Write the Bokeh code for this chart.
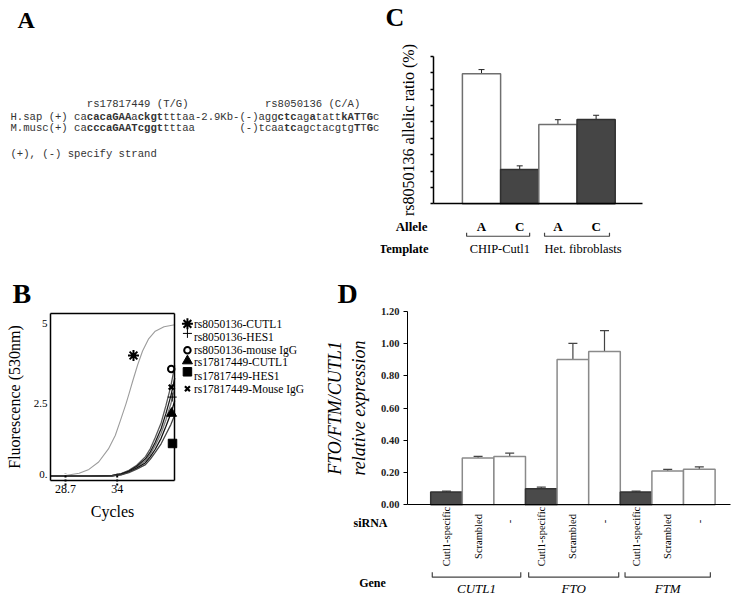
import re
import numpy as np
from bokeh.plotting import figure
from bokeh.models import (Range1d, FixedTicker, LinearAxis, ColumnDataSource, Whisker, TeeHead,
                          NumeralTickFormatter)
from bokeh.layouts import row, column
from bokeh.core.properties import value
from bokeh.embed import file_html
from bokeh.resources import INLINE

SERIF = "Liberation Serif"
MONO = "Liberation Mono"

# ---------------- data: panel A (sequence alignment, runs of (text, bold)) ----------------
seq_header = [("            rs17817449 (T/G)            rs8050136 (C/A)", False)]
seq_hsap = [("H.sap (+) ca", False), ("cacaGAA", True), ("a", False), ("ckgt", True),
            ("tttaa-2.9Kb-(-)agg", False), ("ctc", True), ("ag", False), ("a", True),
            ("tatt", False), ("kAT", True), ("T", False), ("G", True), ("c", False)]
seq_mmus = [("M.musc(+) ca", False), ("cccaGAATcggt", True), ("tttaa       (-)tcaa", False),
            ("tc", True), ("agctacgtg", False), ("T", True), ("T", False), ("G", True), ("c", False)]
seq_note = [("(+), (-) specify strand", False)]

# ---------------- data: panel B (amplification curves) ----------------
b_series = ["rs8050136-CUTL1", "rs8050136-HES1", "rs8050136-mouse IgG",
            "rs17817449-CUTL1", "rs17817449-HES1", "rs17817449-Mouse IgG"]
b_markers = ["asterisk", "cross", "circle", "triangle", "square", "x"]
b_x_cutl1 = [27.16, 28.7, 30.1, 31.1, 32.1, 33.1, 33.8, 34.3, 34.9, 35.2, 35.6, 36.1, 36.6, 37.2, 37.9, 38.8, 39.9]
b_f_cutl1 = [0.24, 0.26, 0.33, 0.45, 0.68, 1.09, 1.51, 1.95, 2.50, 2.80, 3.22, 3.72, 4.15, 4.52, 4.77, 4.91, 4.97]
b_x_late = [27.16, 31.0, 33.5, 34.4, 35.2, 36.0, 36.9, 37.4, 37.9, 38.5, 39.0, 39.5, 39.9]
b_f_hes1_80 = [0.24, 0.24, 0.25, 0.30, 0.39, 0.52, 0.72, 0.93, 1.20, 1.58, 2.00, 2.50, 3.00]
b_f_igg_80 = [0.24, 0.24, 0.26, 0.32, 0.42, 0.58, 0.85, 1.10, 1.45, 1.90, 2.45, 3.05, 3.70]
b_f_cutl1_17 = [0.24, 0.24, 0.25, 0.29, 0.37, 0.49, 0.66, 0.85, 1.08, 1.42, 1.80, 2.20, 2.60]
b_f_hes1_17 = [0.24, 0.24, 0.25, 0.28, 0.35, 0.46, 0.60, 0.77, 0.98, 1.25, 1.55, 1.85, 2.15]
b_f_igg_17 = [0.24, 0.24, 0.26, 0.31, 0.40, 0.55, 0.78, 1.00, 1.30, 1.72, 2.20, 2.75, 3.30]
b_mark_x = [35.67, 39.64, 39.54, 39.57, 39.67, 39.54]
b_mark_y = [4.01, 2.71, 3.59, 2.20, 1.26, 3.02]
b_ct = [28.7, 34.0]
b_xlim = (27.16, 39.9)
b_ylim = (0.1, 5.31)
b_yticks = [0.3, 2.5, 5.0]
b_ylabels = {0.3: "0.", 2.5: "2.5", 5.0: "5"}

# ---------------- data: panel C (allelic ratio) ----------------
c_alleles = ["A", "C", "A", "C"]
c_templates = ["CHIP-Cutl1", "Het. fibroblasts"]
c_ratio = [79.5, 21.0, 48.5, 51.5]
c_err = [2.5, 2.2, 2.9, 2.6]
c_yticks = [0, 10, 20, 30, 40, 50, 60, 70, 80, 90]

# ---------------- data: panel D (relative expression) ----------------
d_genes = ["CUTL1", "FTO", "FTM"]
d_sirna = ["Cutl1-specific", "Scrambled", "-"] * 3
d_expr = [0.08, 0.29, 0.30, 0.10, 0.90, 0.95, 0.08, 0.21, 0.22]
d_err = [0.005, 0.01, 0.02, 0.01, 0.10, 0.13, 0.005, 0.01, 0.015]
d_yticks = [0.0, 0.2, 0.4, 0.6, 0.8, 1.0, 1.2]


def make_fig(w, h, xr, yr, axes=True):
    kw = {} if axes else dict(x_axis_location=None, y_axis_location=None)
    p = figure(width=w, height=h, x_range=xr, y_range=yr, output_backend="svg",
               toolbar_location=None, min_border_left=0, min_border_right=0,
               min_border_top=0, min_border_bottom=0, **kw)
    p.grid.visible = False
    p.outline_line_color = None
    if "frame_align" in p.properties():
        p.frame_align = False
    return p


def txt(p, xs, ys, texts, size, style="normal", align="left", baseline="middle", angle=0.0,
        color="black", font=SERIF):
    p.text(x=xs, y=ys, text=texts, text_font=value(font), text_font_size=size,
           text_font_style=style, text_align=align, text_baseline=baseline, angle=angle,
           text_color=color)


def no_ticks(ax):
    ax.major_tick_line_color = None
    ax.minor_tick_line_color = None
    ax.major_tick_in = 0
    ax.major_tick_out = 0
    ax.minor_tick_in = 0
    ax.minor_tick_out = 0


def style_labels(ax, size, style="normal", color="black"):
    ax.major_label_text_font = SERIF
    ax.major_label_text_font_size = size
    ax.major_label_text_font_style = style
    ax.major_label_text_color = color


def style_title(ax, text, size, style="normal", standoff=5):
    ax.axis_label = text
    ax.axis_label_text_font = SERIF
    ax.axis_label_text_font_size = size
    ax.axis_label_text_font_style = style
    ax.axis_label_text_color = "black"
    ax.axis_label_standoff = standoff


def plain_axis(loc, bounds, width=1.5):
    ax = LinearAxis(ticker=FixedTicker(ticks=[]), fixed_location=loc, bounds=bounds,
                    axis_line_width=width, axis_line_color="black")
    no_ticks(ax)
    return ax


TOP_H, BOT_H = 278, 322

# ======================= Panel A =======================
pA = make_fig(380, TOP_H, Range1d(0, 380), Range1d(TOP_H, 0), axes=False)
A_X0, A_CW = 10.0, 0.6 * 10.6
A_MID = [103.1, 116.1, 127.8, 153.8]
norm = dict(x=[], y=[], text=[])
bold = dict(x=[], y=[], text=[])
for line, ym in zip([seq_header, seq_hsap, seq_mmus, seq_note], A_MID):
    col = 0
    for run, is_bold in line:
        for m in re.finditer(r"\S+", run):
            d = bold if is_bold else norm
            d["x"].append(A_X0 + (col + m.start()) * A_CW)
            d["y"].append(ym)
            d["text"].append(m.group())
        col += len(run)
for d, st in [(norm, "normal"), (bold, "bold")]:
    pA.text(x="x", y="y", text="text", source=ColumnDataSource(d), text_font=value(MONO),
            text_font_size="10.6px", text_font_style=st, text_baseline="middle",
            text_align="left", text_color="#333333")
txt(pA, [17], [19.0], ["A"], "24px", "bold", "left", "middle")

# ======================= Panel C =======================
pC = make_fig(362, TOP_H, Range1d(-2.644, 6.832), Range1d(-45.6, 124.2))
C_AX_X, C_AX_END = -1.249, 4.215
c_x = list(range(len(c_alleles)))
c_fill = ["white" if a == "A" else "#454545" for a in c_alleles]
c_line = ["#6f6f6f" if a == "A" else "#303030" for a in c_alleles]
pC.vbar(x=c_x, top=c_ratio, width=1.0, bottom=0, fill_color=c_fill, line_color=c_line, line_width=1.5)
c_src = ColumnDataSource(dict(x=c_x, lo=[r - e for r, e in zip(c_ratio, c_err)],
                              hi=[r + e for r, e in zip(c_ratio, c_err)]))
pC.add_layout(Whisker(source=c_src, base="x", lower="lo", upper="hi", line_color="#222222", line_width=1,
                      upper_head=TeeHead(size=6, line_color="#222222", line_width=1),
                      lower_head=TeeHead(size=6, line_color="#222222", line_width=1)))
yC = pC.yaxis[0]
yC.fixed_location = C_AX_X
yC.bounds = (0, 90)
yC.ticker = FixedTicker(ticks=[], minor_ticks=c_yticks)
yC.major_tick_line_color = None
yC.major_tick_in = 0
yC.major_tick_out = 0
yC.minor_tick_in = 0
yC.minor_tick_out = 3
yC.minor_tick_line_width = 1.5
yC.minor_tick_line_color = "black"
yC.major_label_standoff = 0
yC.axis_line_width = 1.5
style_title(yC, "rs8050136 allelic ratio (%)", "16px", "normal", 14)
xC = pC.xaxis[0]
xC.fixed_location = 0
xC.bounds = (C_AX_X, C_AX_END)
xC.ticker = FixedTicker(ticks=c_x)
xC.major_label_overrides = {i: a for i, a in enumerate(c_alleles)}
style_labels(xC, "13px", "bold")
xC.major_label_standoff = 15
no_ticks(xC)
xC.axis_line_width = 1.5
txt(pC, [-2.513], [113.9], ["C"], "26px", "bold", "left", "middle")
txt(pC, [-1.414], [-13.9], ["Allele"], "13px", "bold", "right")
txt(pC, [-1.387], [-27.3], ["Template"], "12.5px", "bold", "right")
txt(pC, [0.48, 2.66], [-27.3, -27.3], c_templates, "12.5px", "normal", "center")
c_br = [(-0.39, 1.26), (1.65, 3.35)]
pC.multi_line(xs=[[a, a, b, b] for a, b in c_br], ys=[[-17.6, -19.8, -19.8, -17.6]] * len(c_br),
              line_color="#444444", line_width=1.2)

# ======================= Panel B =======================
pB = make_fig(326, BOT_H, Range1d(22.037, 55.456), Range1d(-3.647, 6.416))
curves = [(b_x_cutl1, b_f_cutl1, "#9c9c9c", 1.1),
          (b_x_late, b_f_igg_80, "#5a5a5a", 1.3),
          (b_x_late, b_f_hes1_80, "#7a7a7a", 1.3),
          (b_x_late, b_f_igg_17, "#1a1a1a", 1.3),
          (b_x_late, b_f_cutl1_17, "#111111", 1.3),
          (b_x_late, b_f_hes1_17, "#444444", 1.3)]
for xs, ys, colr, lw in curves:
    pB.line(xs, ys, line_color=colr, line_width=lw)
pB.segment(x0=b_ct, y0=[-0.05] * 2, x1=b_ct, y1=[0.33] * 2, line_color="black",
           line_width=2, line_dash="2 2")
mstyle = {"asterisk": dict(size=11, line_width=2.0, fill_color=None),
          "cross": dict(size=9, line_width=1.0, fill_color=None),
          "circle": dict(size=6.5, line_width=2.0, fill_color=None),
          "triangle": dict(size=10, line_width=1.0, fill_color="black"),
          "square": dict(size=8.5, line_width=1.0, fill_color="black"),
          "x": dict(size=7, line_width=2.2, fill_color=None)}
B_LEG_MX, B_LEG_TX = 41.2, 41.87
b_leg_my = [5.00, 4.70, 4.17, 3.84, 3.50, 2.97]
b_leg_ty = [5.00, 4.58, 4.17, 3.80, 3.36, 2.97]
for i, m in enumerate(b_markers):
    st = mstyle[m]
    pB.scatter([b_mark_x[i]], [b_mark_y[i]], marker=m, line_color="black", **st)
    pB.scatter([B_LEG_MX], [b_leg_my[i]], marker=m, line_color="black", **st)
txt(pB, [B_LEG_TX] * len(b_series), b_leg_ty, b_series, "11.5px", "normal", "left")
yB = pB.yaxis[0]
yB.fixed_location = b_xlim[0]
yB.bounds = b_ylim
yB.ticker = FixedTicker(ticks=b_yticks)
yB.major_label_overrides = b_ylabels
style_labels(yB, "11px")
yB.major_label_standoff = 3
no_ticks(yB)
yB.axis_line_width = 1.5
style_title(yB, "Fluorescence (530nm)", "16px", "normal", 8)
xB = pB.xaxis[0]
xB.fixed_location = b_ylim[0]
xB.bounds = b_xlim
xB.ticker = FixedTicker(ticks=b_ct)
style_labels(xB, "12px")
xB.major_label_standoff = 4
no_ticks(xB)
xB.axis_line_width = 1.5
style_title(xB, "Cycles", "16px", "normal", 7)
pB.add_layout(plain_axis(b_ylim[1], b_xlim), "above")
pB.add_layout(plain_axis(b_xlim[1], b_ylim), "right")
txt(pB, [23.27], [5.95], ["B"], "28px", "bold", "left", "middle")

# ======================= Panel D =======================
pD = make_fig(416, BOT_H, Range1d(-3.797, 9.367), Range1d(-0.5932, 1.4027))
D_AX_X, D_AX_END = -1.234, 8.988
d_x = list(range(len(d_expr)))
d_dark = [s.startswith("Cutl1") for s in d_sirna]
pD.vbar(x=d_x, top=d_expr, width=1.0, bottom=0,
        fill_color=["#4a4a4a" if k else "white" for k in d_dark],
        line_color=["#333333" if k else "#8a8a8a" for k in d_dark], line_width=1.5)
d_src = ColumnDataSource(dict(x=d_x, lo=[v - e for v, e in zip(d_expr, d_err)],
                              hi=[v + e for v, e in zip(d_expr, d_err)]))
pD.add_layout(Whisker(source=d_src, base="x", lower="lo", upper="hi", line_color="#444444", line_width=1.2,
                      upper_head=TeeHead(size=9, line_color="#444444", line_width=1.2),
                      lower_head=TeeHead(size=9, line_color="#444444", line_width=1.2)))
yD = pD.yaxis[0]
yD.fixed_location = D_AX_X
yD.bounds = (0, 1.2)
yD.ticker = FixedTicker(ticks=d_yticks)
yD.formatter = NumeralTickFormatter(format="0.00")
style_labels(yD, "10.5px", "bold", "#222222")
yD.major_label_standoff = 4
yD.major_tick_in = 0
yD.major_tick_out = 4
yD.minor_tick_line_color = None
yD.axis_line_width = 1
style_title(yD, "FTO/FTM/CUTL1\nrelative expression", "18px", "italic", 9)
xD = pD.xaxis[0]
xD.fixed_location = 0
xD.bounds = (D_AX_X, D_AX_END)
xD.ticker = FixedTicker(ticks=[])
no_ticks(xD)
xD.axis_line_width = 1.2
d_label_y = [-0.1035 if s == "-" else -0.1965 for s in d_sirna]
txt(pD, d_x, d_label_y, d_sirna, "10.5px", "normal", "center", "middle", angle=np.pi / 2)
txt(pD, [-3.449], [1.31], ["D"], "28px", "bold", "left", "middle")
txt(pD, [-2.405], [-0.1159], ["siRNA"], "12px", "bold", "center")
txt(pD, [-2.342], [-0.4866], ["Gene"], "12px", "bold", "center")
d_br = [(-0.45, 2.35), (2.60, 5.45), (5.65, 8.35)]
pD.multi_line(xs=[[a, a, b, b] for a, b in d_br], ys=[[-0.4178, -0.4488, -0.4488, -0.4178]] * len(d_br),
              line_color="#444444", line_width=1.2)
txt(pD, [(a + b) / 2 for a, b in d_br], [-0.5188] * len(d_br), d_genes, "13px", "italic", "center")

layout = column(row(pA, pC), row(pB, pD))
open("out.html", "w").write(file_html(layout, INLINE, title="Figure"))
